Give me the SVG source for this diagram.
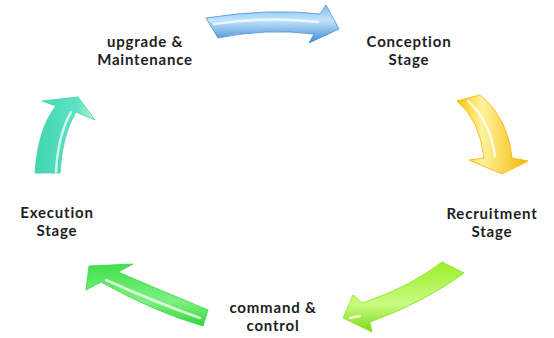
<svg xmlns="http://www.w3.org/2000/svg" width="554" height="338" viewBox="0 0 554 338">
  <defs>
    <linearGradient id="gBlue" x1="0" y1="0" x2="0" y2="1">
      <stop offset="0" stop-color="#7fbdf0"/>
      <stop offset="0.4" stop-color="#c2e4fb"/>
      <stop offset="1" stop-color="#3f88d2"/>
    </linearGradient>
    <linearGradient id="gYellow" x1="0" y1="0" x2="1" y2="0">
      <stop offset="0" stop-color="#f7c400"/>
      <stop offset="0.35" stop-color="#fff3a0"/>
      <stop offset="1" stop-color="#f2b800"/>
    </linearGradient>
    <linearGradient id="gLime" x1="0" y1="0" x2="0" y2="1">
      <stop offset="0" stop-color="#9aee2a"/>
      <stop offset="0.6" stop-color="#c9fb80"/>
      <stop offset="1" stop-color="#7bdc18"/>
    </linearGradient>
    <linearGradient id="gGreen" x1="0" y1="0" x2="0" y2="1">
      <stop offset="0" stop-color="#3fe04a"/>
      <stop offset="0.6" stop-color="#7ff082"/>
      <stop offset="1" stop-color="#2fd63c"/>
    </linearGradient>
    <linearGradient id="gTeal" x1="0" y1="0" x2="1" y2="0">
      <stop offset="0" stop-color="#3ed6b0"/>
      <stop offset="0.7" stop-color="#5fe2c2"/>
      <stop offset="1" stop-color="#b5f6e6"/>
    </linearGradient>
  </defs>
  <style>
    .lbl { font-family: Lato, "Open Sans", "Liberation Sans", sans-serif; font-size: 15px; font-weight: 700; letter-spacing: 0.8px; fill: #1e1e1e; text-anchor: middle; }
    .hl { fill: none; stroke: #ffffff; stroke-width: 2.5; stroke-linecap: round; opacity: 0.75; }
    .arrow { stroke-width: 0.8; stroke-linejoin: round; }
  </style>

  <g id="connectors">
    <g id="arrow-upgrade-conception">
      <path class="arrow" fill="url(#gBlue)" stroke="#4a8fd6" d="M206,18 Q270,8 320,14 L326,5 L339,29 L309,43 L314,34 Q266,28 218,38 Z"/>
      <path class="hl" d="M214,24 Q270,16 318,22"/>
    </g>
    <g id="arrow-conception-recruitment">
      <path class="arrow" fill="url(#gYellow)" stroke="#f0b000" d="M457,101 Q480,120 484,158 L469,160 L502,174 L528,161 L512,158 Q508,118 480,95 Z"/>
      <path class="hl" d="M468,101 Q490,121 495,156"/>
    </g>
    <g id="arrow-recruitment-command">
      <path class="arrow" fill="url(#gLime)" stroke="#86e21c" d="M442,262 Q410,287 362,303 L353,295 L343,318 L372,332 L370,322 Q425,302 464,273 Z"/>
      <path class="hl" d="M360,316 L350,318"/>
    </g>
    <g id="arrow-command-execution">
      <path class="arrow" fill="url(#gGreen)" stroke="#33d840" d="M208,310 Q160,290 118,272 L133,264 L89,266 L86,290 L101,282 Q155,312 203,326 Z"/>
      <path class="hl" d="M200,318 Q155,302 106,280"/>
    </g>
    <g id="arrow-execution-upgrade">
      <path class="arrow" fill="url(#gTeal)" stroke="#3ccfaa" d="M35,173 Q38,128 56,106 L42,101 L78,97 L95,120 L76,112 Q62,135 60,173 Z"/>
      <path class="hl" d="M56,172 Q58,135 71,112"/>
    </g>
  </g>

  <g id="node-upgrade">
    <text class="lbl" x="145" y="46.5">upgrade &amp;<tspan x="145" dy="18">Maintenance</tspan></text>
  </g>
  <g id="node-conception">
    <text class="lbl" x="409" y="46.5">Conception<tspan x="409" dy="18">Stage</tspan></text>
  </g>
  <g id="node-recruitment">
    <text class="lbl" x="492" y="218.5">Recruitment<tspan x="492" dy="18">Stage</tspan></text>
  </g>
  <g id="node-execution">
    <text class="lbl" x="57" y="217.5">Execution<tspan x="57" dy="18">Stage</tspan></text>
  </g>
  <g id="node-command">
    <text class="lbl" x="273" y="312.5">command &amp;<tspan x="273" dy="18">control</tspan></text>
  </g>
</svg>
